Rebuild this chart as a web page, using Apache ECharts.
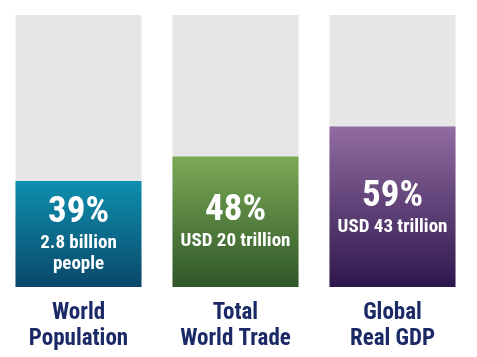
<!DOCTYPE html>
<html>
<head>
<meta charset="utf-8">
<script src="https://cdn.jsdelivr.net/npm/echarts@6/dist/echarts.min.js"></script>
<style>html,body{margin:0;padding:0;background:#fff}#c{width:477px;height:357px}</style>
</head>
<body>
<div id="c"></div>
<script>
const categories = ["World\nPopulation", "Total\nWorld Trade", "Global\nReal GDP"];
const shares = [39, 48, 59];
const subLabels = ["2.8 billion\npeople", "USD 20 trillion", "USD 43 trillion"];
const fullScale = 100;

const gradients = [
  ["#0e8fae", "#0a4869"],
  ["#7ba955", "#2e5628"],
  ["#916ca1", "#2e174d"]
];
const FONT = "'Liberation Sans Narrow', 'Roboto Condensed', 'Arial Narrow', sans-serif";

const chart = echarts.init(document.getElementById('c'));
chart.setOption({
  animation: false,
  backgroundColor: '#fff',
  grid: { left: 0, width: 471, top: 15, height: 272 },
  xAxis: {
    type: 'category',
    data: categories,
    axisLine: { show: false },
    axisTick: { show: false },
    axisLabel: {
      margin: 13,
      fontFamily: FONT,
      fontSize: 23,
      fontWeight: 'bold',
      lineHeight: 26,
      color: '#1b2a66'
    }
  },
  yAxis: { type: 'value', min: 0, max: fullScale, show: false },
  series: [{
    type: 'bar',
    barWidth: 126,
    showBackground: true,
    backgroundStyle: { color: '#e6e6e6' },
    data: shares.map((v, i) => ({
      value: v,
      itemStyle: {
        color: new echarts.graphic.LinearGradient(0, 0, 0, 1, [
          { offset: 0, color: gradients[i][0] },
          { offset: 1, color: gradients[i][1] }
        ])
      },
      label: {
        formatter: '{big|' + v + '%}\n' + subLabels[i].split('\n').map(s => '{small|' + s + '}').join('\n')
      }
    })),
    label: {
      show: true,
      position: 'inside',
      color: '#fff',
      fontFamily: FONT,
      rich: {
        big: { fontSize: 37, lineHeight: 40, fontWeight: 'bold', color: '#fff', fontFamily: FONT },
        small: { fontSize: 19, lineHeight: 21, fontWeight: 'bold', color: '#fff', fontFamily: FONT }
      }
    }
  }]
});
</script>
</body>
</html>
